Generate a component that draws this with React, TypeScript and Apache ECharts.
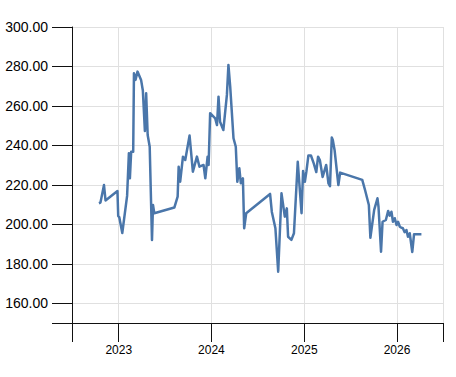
import React, { useEffect, useRef } from "react";
import * as echarts from "echarts";

const dates: string[] = [
  "2022-10-15", "2022-10-21", "2022-11-04", "2022-11-10", "2022-12-27", "2022-12-30", "2023-01-03", "2023-01-15",
  "2023-02-03", "2023-02-10", "2023-02-14", "2023-02-19", "2023-02-27", "2023-03-02", "2023-03-08", "2023-03-16",
  "2023-03-30", "2023-04-06", "2023-04-14", "2023-04-19", "2023-04-25", "2023-05-03", "2023-05-12", "2023-05-16",
  "2023-05-21", "2023-08-08", "2023-08-21", "2023-08-25", "2023-08-31", "2023-09-11", "2023-09-20", "2023-10-07",
  "2023-10-20", "2023-11-05", "2023-11-15", "2023-12-01", "2023-12-08", "2023-12-17", "2023-12-21", "2023-12-27",
  "2024-01-16", "2024-01-23", "2024-01-29", "2024-02-04", "2024-02-17", "2024-03-02", "2024-03-08", "2024-03-15",
  "2024-03-28", "2024-04-06", "2024-04-12", "2024-04-20", "2024-04-26", "2024-05-04", "2024-05-09", "2024-05-17",
  "2024-08-19", "2024-08-26", "2024-09-09", "2024-09-20", "2024-10-03", "2024-10-16", "2024-10-24", "2024-10-29",
  "2024-11-11", "2024-11-21", "2024-12-06", "2024-12-21", "2024-12-27", "2025-01-03", "2025-01-09", "2025-01-17",
  "2025-01-27", "2025-02-07", "2025-02-17", "2025-02-24", "2025-03-03", "2025-03-14", "2025-03-28", "2025-04-06",
  "2025-04-12", "2025-04-19", "2025-04-23", "2025-04-30", "2025-05-15", "2025-05-22", "2025-08-17", "2025-08-28",
  "2025-09-12", "2025-09-18", "2025-10-03", "2025-10-16", "2025-10-20", "2025-10-30", "2025-11-05", "2025-11-18",
  "2025-11-27", "2025-12-03", "2025-12-10", "2025-12-16", "2025-12-23", "2025-12-30", "2026-01-05", "2026-01-12",
  "2026-01-18", "2026-01-24", "2026-01-31", "2026-02-07", "2026-02-13", "2026-02-20", "2026-03-02", "2026-03-09",
  "2026-04-07",
];

const values: number[] = [
  210.7, 211.0, 219.9, 212.1, 216.9, 204.2, 203.7, 195.6,
  214.4, 236.0, 223.3, 236.8, 236.8, 276.5, 273.2, 277.4,
  273.2, 267.8, 247.3, 266.4, 245.3, 239.3, 192.1, 209.8,
  205.6, 208.5, 214.0, 229.2, 221.6, 234.3, 232.6, 245.0,
  226.7, 234.3, 229.2, 230.1, 223.3, 234.3, 230.1, 256.3,
  253.7, 250.3, 264.7, 252.0, 247.8, 265.6, 280.8, 269.8,
  243.6, 239.3, 221.6, 228.4, 220.8, 223.3, 198.0, 205.6,
  215.4, 206.3, 198.0, 176.0, 215.7, 203.9, 208.1, 193.7,
  192.1, 195.5, 231.7, 205.6, 227.0, 221.6, 226.7, 234.9,
  234.9, 230.9, 226.5, 234.3, 232.6, 224.0, 230.1, 220.7,
  219.3, 244.0, 242.7, 237.7, 219.9, 226.2, 222.5, 217.4,
  209.8, 193.2, 207.3, 213.2, 208.9, 186.1, 201.3, 202.2,
  206.8, 204.4, 206.4, 201.3, 203.1, 199.7, 201.3, 198.8,
  198.3, 198.0, 196.0, 197.1, 193.7, 195.5, 186.0, 195.0,
  195.0,
];

const xDomain: string[] = ["2022-07-01", "2026-07-01"];
const tickYears: number[] = [2023, 2024, 2025, 2026];
const yDomain: number[] = [150, 300];
const yTickValues: number[] = [160, 180, 200, 220, 240, 260, 280, 300];

const FONT = "Liberation Sans, Arial, Helvetica, sans-serif";
const AXIS_COLOR = "#111";
const GRID_COLOR = "#e0e0e0";

const toTime = (d: string) => Date.UTC(+d.slice(0, 4), +d.slice(5, 7) - 1, +d.slice(8, 10));

export default function App() {
  const ref = useRef<HTMLDivElement>(null);

  useEffect(() => {
    if (!ref.current) return;
    const chart = echarts.init(ref.current, null, { renderer: "svg" });

    const xMin = toTime(xDomain[0]);
    const xMax = toTime(xDomain[1]);
    const yearStamps = tickYears.map((y) => Date.UTC(y, 0, 1));

    chart.setOption({
      animation: false,
      backgroundColor: "#ffffff",
      grid: { left: 72, right: 13, top: 27, bottom: 54, containLabel: false },
      xAxis: {
        type: "value",
        min: xMin,
        max: xMax,
        scale: true,
        axisLine: { show: true, onZero: false, lineStyle: { color: AXIS_COLOR, width: 1 } },
        axisTick: {
          show: true,
          length: 19,
          customValues: [xMin, ...yearStamps, xMax],
          lineStyle: { color: AXIS_COLOR, width: 1 },
        },
        axisLabel: {
          customValues: yearStamps,
          margin: 21,
          color: "#000",
          fontSize: 12,
          fontFamily: FONT,
          formatter: (v: number) => String(new Date(v).getUTCFullYear()),
        },
        splitLine: {
          show: true,
          customValues: yearStamps,
          lineStyle: { color: GRID_COLOR, width: 1 },
        },
      },
      yAxis: {
        type: "value",
        min: yDomain[0],
        max: yDomain[1],
        axisLine: { show: true, onZero: false, lineStyle: { color: AXIS_COLOR, width: 1 } },
        axisTick: {
          show: true,
          length: 20,
          customValues: [yDomain[0], ...yTickValues],
          lineStyle: { color: AXIS_COLOR, width: 1 },
        },
        axisLabel: {
          customValues: yTickValues,
          margin: 24,
          color: "#000",
          fontSize: 14,
          fontFamily: FONT,
          formatter: (v: number) => v.toFixed(2),
        },
        splitLine: {
          show: true,
          customValues: yTickValues,
          lineStyle: { color: GRID_COLOR, width: 1 },
        },
      },
      series: [
        {
          type: "line",
          data: dates.map((d, i) => [toTime(d), values[i]]),
          showSymbol: false,
          symbol: "none",
          lineStyle: { color: "#4a76aa", width: 2.5, join: "round" },
          z: 3,
        },
      ],
    });

    return () => chart.dispose();
  }, []);

  return <div ref={ref} style={{ width: 456, height: 377, position: "absolute", left: 0, top: 0 }} />;
}
